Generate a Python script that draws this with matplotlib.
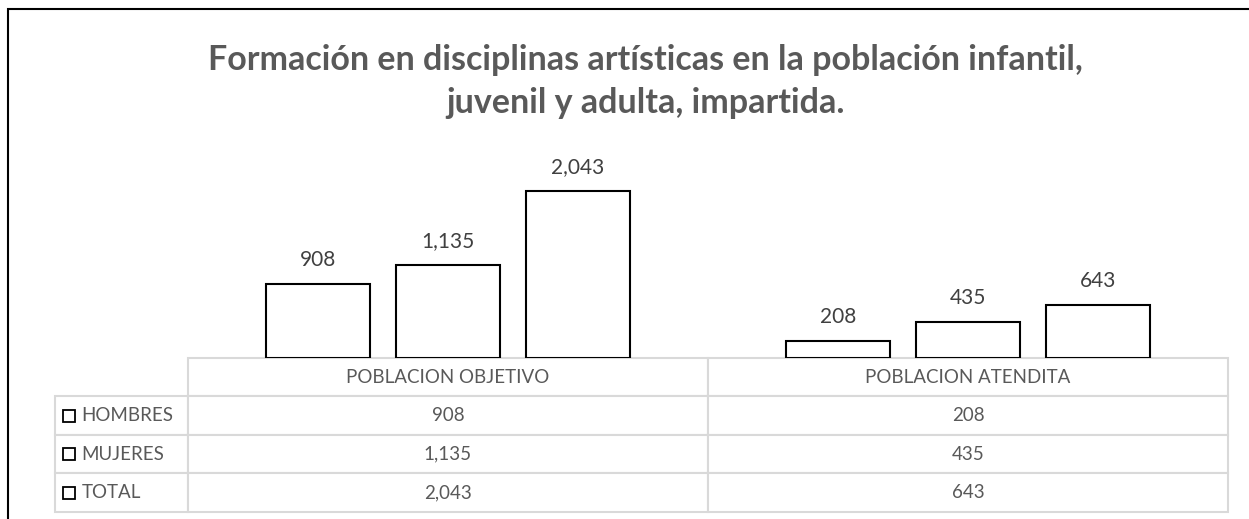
import matplotlib
matplotlib.use("Agg")
import matplotlib.pyplot as plt
from matplotlib.patches import Rectangle

plt.rcParams['font.family'] = ['Lato', 'DejaVu Sans']

# data
categories = ['POBLACION OBJETIVO', 'POBLACION ATENDITA']
series = ['HOMBRES', 'MUJERES', 'TOTAL']
hombres = [908, 208]
mujeres = [1135, 435]
total = [2043, 643]

TITLE_1 = 'Formación en disciplinas artísticas en la población infantil,'
TITLE_2 = 'juvenil y adulta, impartida.'

W, H = 1249, 519
fig = plt.figure(figsize=(W / 100, H / 100), dpi=100)

# axes placed in pixel terms
ax_l, ax_r, ax_top, ax_bot = 188, 1228, 130, 358
ax = fig.add_axes([ax_l / W, 1 - ax_bot / H, (ax_r - ax_l) / W, (ax_bot - ax_top) / H])

x = range(len(categories))
offsets = [-0.25, 0.0, 0.25]
for vals, off in zip([hombres, mujeres, total], offsets):
    bars = ax.bar([i + off for i in x], vals, width=0.2, color='white',
                  edgecolor='black', linewidth=1.5)
    for b, v in zip(bars, vals):
        ax.annotate(f'{v:,}', (b.get_x() + b.get_width() / 2, v),
                    xytext=(0, 13), textcoords='offset points',
                    ha='center', va='baseline', fontsize=15, color='#404040')

ax.set_xlim(-0.5, 1.5)
ax.set_ylim(0, 2790)
ax.axis('off')

# data table below the plot
cell_text = [[''] + categories]
for name, vals in zip(series, [hombres, mujeres, total]):
    cell_text.append([name] + [f'{v:,}' for v in vals])

tb_l, tb_r, tb_bot = 55, 1228, 512
ax_w, ax_h = ax_r - ax_l, ax_bot - ax_top
tbl = ax.table(cellText=cell_text, cellLoc='center',
               colWidths=[133, 520, 520],
               bbox=[(tb_l - ax_l) / ax_w, -(tb_bot - ax_bot) / ax_h,
                     (tb_r - tb_l) / ax_w, (tb_bot - ax_bot) / ax_h])
tbl.auto_set_font_size(False)
for (r, c), cell in tbl.get_celld().items():
    cell.set_edgecolor('#d9d9d9')
    cell.set_linewidth(1.5)
    cell.get_text().set_fontsize(13.5)
    cell.get_text().set_color('#595959')
    if r == 0 and c == 0:
        cell.visible_edges = ''
    if c == 0 and r > 0:
        cell._loc = 'left'
        cell.PAD = 0.2
        cell.get_text().set_ha('left')

# legend keys in the row label column
row_h = (tb_bot - ax_bot) / 4
for r in range(1, 4):
    y_mid = ax_bot + row_h * (r + 0.5)
    fig.add_artist(Rectangle((63 / W, 1 - (y_mid + 6) / H), 12 / W, 12 / H,
                             transform=fig.transFigure, facecolor='white',
                             edgecolor='black', linewidth=1.3))

# title
fig.text(0.517, 1 - 70 / H, TITLE_1, ha='center', va='baseline',
         fontsize=24.5, fontweight='bold', color='#595959')
fig.text(0.517, 1 - 113 / H, TITLE_2, ha='center', va='baseline',
         fontsize=24.5, fontweight='bold', color='#595959')

# outer frame of the chart area
fig.add_artist(Rectangle((8 / W, -0.1), 1.2, 1 - 9 / H + 0.1,
                         transform=fig.transFigure, facecolor='none',
                         edgecolor='black', linewidth=1.5, clip_on=False))

fig.savefig('out.png', dpi=100)
